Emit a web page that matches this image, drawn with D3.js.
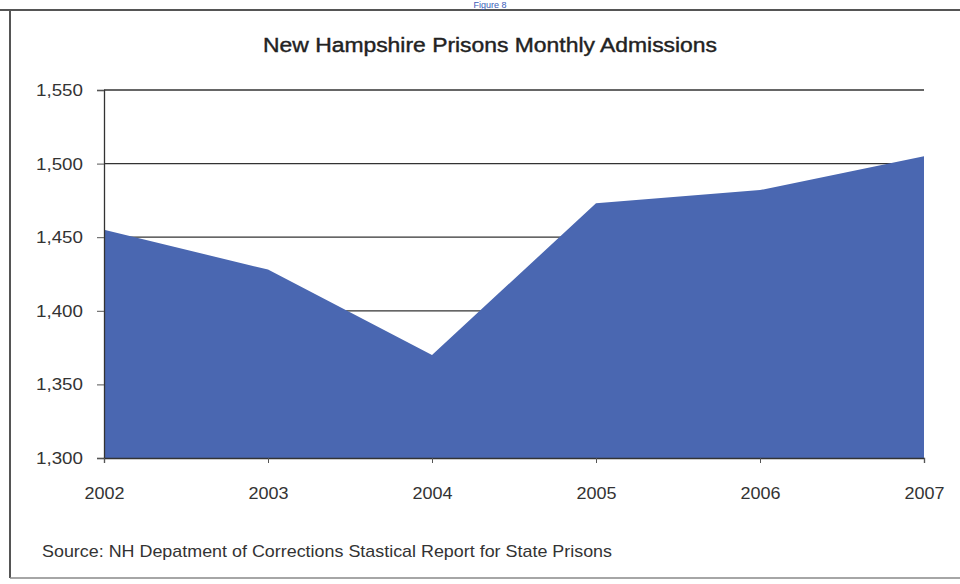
<!DOCTYPE html>
<html>
<head>
<meta charset="utf-8">
<script src="https://cdn.jsdelivr.net/npm/d3@7"></script>
<style>
  body { margin: 0; background: #fff; }
  text { font-family: "Liberation Sans", Arial, sans-serif; }
</style>
</head>
<body>
<div class="chart"></div>
<script>
var years = [2002, 2003, 2004, 2005, 2006, 2007];
var admissions = [1455, 1428, 1370, 1473, 1482, 1505];
var yTicks = [1300, 1350, 1400, 1450, 1500, 1550];

var svgWidth = 960;
var svgHeight = 584;

var margin = { top: 90, right: 36, bottom: 126, left: 104 };
var width = svgWidth - margin.left - margin.right;
var height = svgHeight - margin.top - margin.bottom;

var svg = d3.select(".chart")
  .append("svg")
  .attr("width", svgWidth)
  .attr("height", svgHeight);

// scanned page frame
svg.append("line")
  .attr("x1", 0).attr("x2", svgWidth)
  .attr("y1", 10).attr("y2", 10)
  .attr("stroke", "#555").attr("stroke-width", 2);
svg.append("line")
  .attr("x1", 10).attr("x2", 10)
  .attr("y1", 10).attr("y2", 578)
  .attr("stroke", "#555").attr("stroke-width", 2);
svg.append("line")
  .attr("x1", 10).attr("x2", svgWidth)
  .attr("y1", 578).attr("y2", 578)
  .attr("stroke", "#888").attr("stroke-width", 1.5);

svg.append("text")
  .attr("x", 490).attr("y", 8)
  .attr("text-anchor", "middle")
  .attr("font-size", "9px")
  .attr("fill", "#3b5db8")
  .text("Figure 8");

svg.append("text")
  .attr("x", 263).attr("y", 52)
  .attr("font-size", "20px")
  .attr("fill", "#222")
  .attr("stroke", "#222").attr("stroke-width", 0.4)
  .attr("textLength", 454)
  .attr("lengthAdjust", "spacingAndGlyphs")
  .text("New Hampshire Prisons Monthly Admissions");

var chartGroup = svg.append("g")
  .attr("transform", `translate(${margin.left}, ${margin.top})`);

var x = d3.scalePoint()
  .domain(years)
  .range([0, width]);

var y = d3.scaleLinear()
  .domain([1300, 1550])
  .range([height, 0]);

// gridlines
chartGroup.append("g")
  .selectAll("line")
  .data(yTicks.filter(d => d > 1300))
  .enter()
  .append("line")
  .attr("x1", 0).attr("x2", width)
  .attr("y1", d => y(d)).attr("y2", d => y(d))
  .attr("stroke", "#333")
  .attr("stroke-width", 1.3);

var area = d3.area()
  .x((d, i) => x(years[i]))
  .y0(y(1300))
  .y1(d => y(d));

chartGroup.append("path")
  .datum(admissions)
  .attr("d", area)
  .attr("fill", "#4a67b1");

var leftAxis = d3.axisLeft(y)
  .tickValues(yTicks)
  .tickSize(7)
  .tickPadding(14)
  .tickFormat(d3.format(","));

var bottomAxis = d3.axisBottom(x)
  .tickSize(5)
  .tickPadding(24);

var yAxisG = chartGroup.append("g").call(leftAxis);
var xAxisG = chartGroup.append("g")
  .attr("transform", `translate(0, ${height})`)
  .call(bottomAxis);

[yAxisG, xAxisG].forEach(function(g) {
  g.select(".domain").attr("stroke", "#333").attr("stroke-width", 1.3);
  g.selectAll(".tick line").attr("stroke", "#555");
  g.selectAll("text")
    .attr("font-size", "17px")
    .attr("fill", "#333")
    .style("font-family", "\"Liberation Sans\", Arial, sans-serif");
});
yAxisG.selectAll("text").attr("textLength", 47).attr("lengthAdjust", "spacingAndGlyphs");
xAxisG.selectAll("text").attr("textLength", 40).attr("lengthAdjust", "spacingAndGlyphs");

svg.append("text")
  .attr("x", 42).attr("y", 557)
  .attr("font-size", "17px")
  .attr("fill", "#333")
  .attr("textLength", 570)
  .attr("lengthAdjust", "spacingAndGlyphs")
  .text("Source: NH Depatment of Corrections Stastical Report for State Prisons");
</script>
</body>
</html>
